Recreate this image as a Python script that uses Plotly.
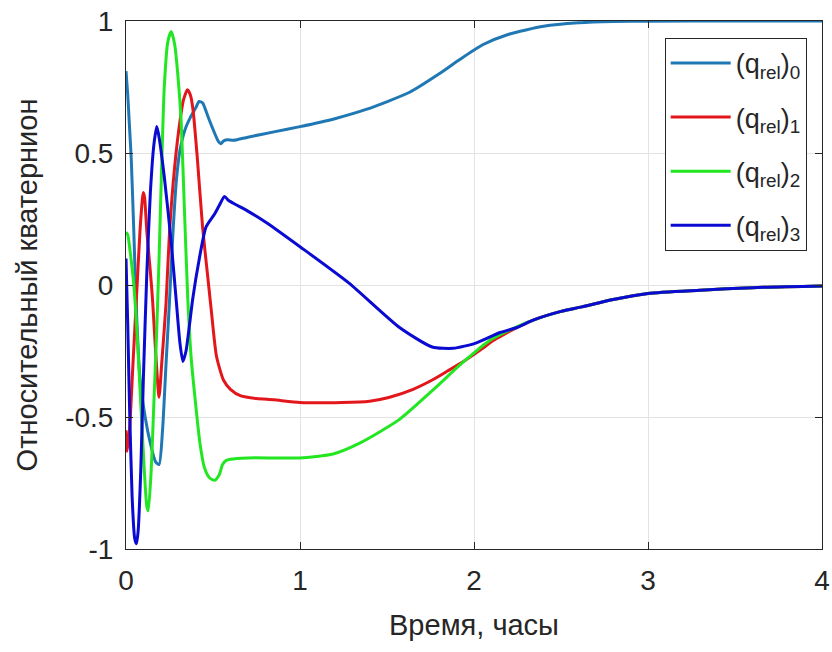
import plotly.graph_objects as go

# ---------------- data ----------------
t_q0 = [0, 0.01, 0.02, 0.03, 0.045, 0.06, 0.08, 0.11, 0.14, 0.17, 0.19, 0.21, 0.23,
        0.25, 0.27, 0.29, 0.31, 0.34, 0.37, 0.40, 0.42, 0.44, 0.47, 0.50, 0.53,
        0.545, 0.56, 0.58, 0.62, 0.7, 0.85, 1.0, 1.2, 1.38, 1.63, 1.8, 1.92, 2.05,
        2.2, 2.4, 2.6, 2.8, 3.0, 3.5, 4.0]
q0 = [0.81, 0.72, 0.6, 0.48, 0.2, -0.1, -0.35, -0.5, -0.6, -0.67, -0.68, -0.55, -0.3,
      -0.06, 0.2, 0.4, 0.51, 0.59, 0.635, 0.67, 0.695, 0.69, 0.64, 0.59, 0.545,
      0.535, 0.545, 0.55, 0.548, 0.56, 0.58, 0.60, 0.63, 0.665, 0.73, 0.80, 0.855, 0.91,
      0.95, 0.98, 0.993, 0.998, 0.999, 1.0, 1.0]

t_tail = [2.34, 2.5, 2.62, 2.8, 3.0, 3.3, 3.6, 4.0]
tail = [-0.133, -0.10, -0.083, -0.055, -0.032, -0.02, -0.01, -0.004]

t_q1 = [0, 0.006, 0.02, 0.04, 0.06, 0.08, 0.095, 0.10, 0.107, 0.12, 0.14, 0.153, 0.17,
        0.19, 0.205, 0.23, 0.25, 0.28, 0.31, 0.33, 0.353, 0.37, 0.385, 0.41, 0.44,
        0.47, 0.49, 0.52, 0.56, 0.6, 0.66, 0.75, 0.85, 1.0, 1.24, 1.4, 1.51, 1.65,
        1.76, 1.85, 1.95, 2.05, 2.11, 2.17, 2.25] + t_tail
q1 = [-0.55, -0.63, -0.55, -0.3, -0.05, 0.2, 0.33, 0.35, 0.33, 0.2, 0.05, -0.06, -0.25,
      -0.425, -0.3, -0.07, 0.2, 0.45, 0.62, 0.70, 0.74, 0.72, 0.665, 0.48, 0.22,
      0.03, -0.095, -0.27, -0.36, -0.395, -0.42, -0.43, -0.435, -0.445, -0.445, -0.44, -0.426, -0.395,
      -0.36, -0.325, -0.285, -0.24, -0.21, -0.188, -0.16] + tail

t_q2 = [0, 0.01, 0.025, 0.045, 0.065, 0.085, 0.105, 0.12, 0.128, 0.145, 0.16, 0.175,
        0.19, 0.205, 0.22, 0.24, 0.26, 0.28, 0.30, 0.317, 0.335, 0.355, 0.375, 0.40,
        0.425, 0.45, 0.48, 0.51, 0.535, 0.555, 0.575, 0.6, 0.7, 0.85, 1.0, 1.19, 1.34,
        1.57, 1.76, 1.95, 2.09, 2.24] + t_tail
q2 = [0.20, 0.19, 0.12, 0.0, -0.2, -0.45, -0.7, -0.84, -0.855, -0.7, -0.45, -0.2,
      0.1, 0.45, 0.75, 0.92, 0.96, 0.91, 0.78, 0.62, 0.3, -0.05, -0.28, -0.45,
      -0.6, -0.69, -0.73, -0.74, -0.72, -0.68, -0.665, -0.66, -0.655, -0.655, -0.655, -0.64, -0.60,
      -0.51, -0.40, -0.285, -0.21, -0.16] + tail

t_q3 = [0, 0.01, 0.02, 0.035, 0.05, 0.06, 0.07, 0.085, 0.10, 0.12, 0.14, 0.16, 0.177,
        0.19, 0.22, 0.26, 0.29, 0.31, 0.327, 0.345, 0.365, 0.384, 0.42, 0.46, 0.51,
        0.535, 0.566, 0.59, 0.63, 0.7, 0.81, 1.0, 1.28, 1.57, 1.76, 1.88, 2.01, 2.15,
        2.25] + t_tail
q3 = [0.10, -0.15, -0.45, -0.8, -0.96, -0.98, -0.93, -0.7, -0.35, 0.05, 0.35, 0.53, 0.60,
      0.56, 0.41, 0.16, -0.07, -0.22, -0.29, -0.25, -0.15, -0.05, 0.095, 0.22, 0.27,
      0.30, 0.335, 0.32, 0.305, 0.28, 0.235, 0.145, 0.008, -0.16, -0.235, -0.24, -0.22, -0.18,
      -0.16] + tail

names = ["(q<sub>rel</sub>)<sub>0</sub>", "(q<sub>rel</sub>)<sub>1</sub>",
         "(q<sub>rel</sub>)<sub>2</sub>", "(q<sub>rel</sub>)<sub>3</sub>"]
colors = ["#1f78b4", "#e3161c", "#22e622", "#0a0ad2"]

x_ticks = [0, 1, 2, 3, 4]
y_ticks = [-1, -0.5, 0, 0.5, 1]
y_ticklabels = ["-1", "-0.5", "0", "0.5", "1"]

# ---------------- figure ----------------
fig = go.Figure()
for i, (tx, qy) in enumerate([(t_q0, q0), (t_q1, q1), (t_q2, q2), (t_q3, q3)]):
    fig.add_trace(go.Scatter(x=tx, y=qy, mode="lines", name=names[i],
                             legendgroup=f"g{i}",
                             line=dict(color=colors[i], width=3, shape="spline", smoothing=0.6)))

font_fam = "Liberation Sans, Arial, sans-serif"
axis_common = dict(showline=True, linecolor="#262626", linewidth=1, mirror="allticks",
                   ticks="inside", ticklen=7, tickcolor="#262626", automargin=False,
                   showgrid=True, gridcolor="#e3e3e3", gridwidth=1, zeroline=False,
                   tickfont=dict(family=font_fam, size=28, color="#262626"))

fig.update_layout(
    width=832, height=652,
    margin=dict(l=126, r=10, t=21, b=103),
    paper_bgcolor="white", plot_bgcolor="white",
    font=dict(family=font_fam, color="#262626"),
    xaxis=dict(range=[0, 4], tickvals=x_ticks, ticktext=[str(v) for v in x_ticks],
               ticklabelstandoff=6,
               title=dict(text="Время, часы", font=dict(size=29, color="#262626"), standoff=20),
               **axis_common),
    yaxis=dict(range=[-1, 1], tickvals=y_ticks, ticktext=y_ticklabels,
               ticklabelstandoff=6,
               title=dict(text="Относительный кватернион", font=dict(size=29, color="#262626"), standoff=19),
               **axis_common),
    legend=dict(x=0.978, y=0.968, xanchor="right", yanchor="top",
                bgcolor="white", bordercolor="#262626", borderwidth=1,
                font=dict(family=font_fam, size=27, color="#262626"),
                tracegroupgap=16, itemwidth=60),
    showlegend=True,
)

# remove the browser's default 8px body margin so the figure fills the window
fig.write_html("out.html", config={"displayModeBar": False},
               post_script="document.body.style.margin='0';document.body.style.overflow='hidden';")
